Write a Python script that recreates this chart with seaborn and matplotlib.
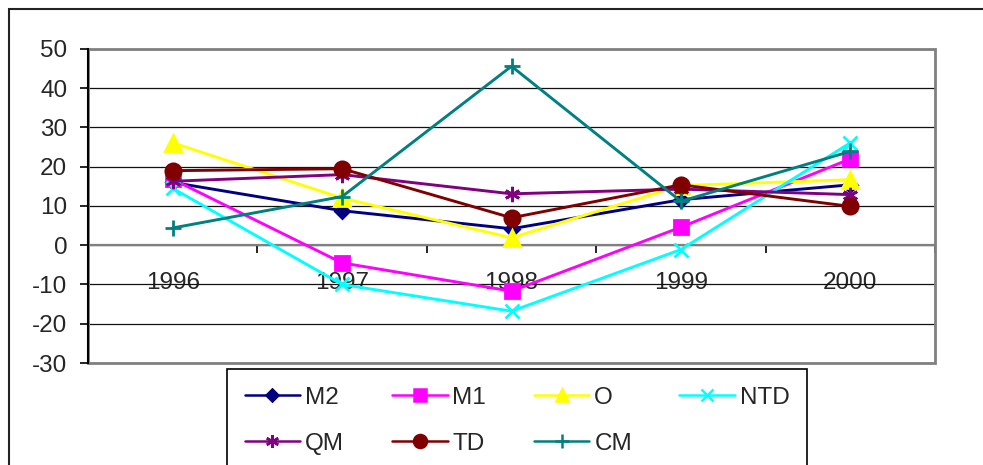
import matplotlib
matplotlib.use("Agg")
import matplotlib.pyplot as plt
from matplotlib.patches import Rectangle
from matplotlib.lines import Line2D
import seaborn as sns
import pandas as pd

years = ["1996", "1997", "1998", "1999", "2000"]
M2 = [16.0, 8.8, 4.2, 11.6, 15.4]
M1 = [16.8, -4.5, -11.7, 4.6, 22.0]
O = [26.1, 12.0, 1.9, 15.2, 16.7]
NTD = [14.5, -10.0, -16.8, -1.1, 26.1]
QM = [16.3, 18.0, 13.1, 14.3, 12.9]
TD = [19.0, 19.5, 7.0, 15.4, 9.9]
CM = [4.4, 12.4, 45.6, 11.2, 23.9]

series_names = ["M2", "M1", "O", "NTD", "QM", "TD", "CM"]
series_values = [M2, M1, O, NTD, QM, TD, CM]
colors = ["#000080", "#FF00FF", "#FFFF00", "#00FFFF", "#800080", "#800000", "#008080"]
markers = ["D", "s", "^", "x", (6, 2, 0), "o", "+"]
msizes = [7, 10, 11, 10, 11, 11, 12]

FS = 17.5

sns.set_style("white")
plt.rcParams["font.family"] = ["Liberation Sans", "DejaVu Sans"]
plt.rcParams["font.size"] = FS
plt.rcParams["axes.unicode_minus"] = False

rows = []
for name, vals in zip(series_names, series_values):
    for i, v in enumerate(vals):
        rows.append({"series": name, "x": i, "value": v})
df = pd.DataFrame(rows)

fig = plt.figure(figsize=(9.83, 4.65), dpi=100)
fig.patch.set_facecolor("white")
ax = fig.add_axes([88 / 983, 1 - 363 / 465, (935 - 88) / 983, (363 - 49) / 465])

handles = {}
for name, col, mk, ms in zip(series_names, colors, markers, msizes):
    sub = df[df["series"] == name]
    sns.lineplot(data=sub, x="x", y="value", ax=ax, color=col, marker=mk,
                 markersize=ms, markeredgecolor=col, markerfacecolor=col,
                 markeredgewidth=2.0, linewidth=2.1, legend=False, zorder=5)
    handles[name] = Line2D([0], [0], color=col, marker=mk, markersize=ms * 0.85,
                           markeredgecolor=col, markerfacecolor=col,
                           markeredgewidth=1.8, linewidth=1.8, label=name)

ax.set_xlim(-0.5, 4.5)
ax.set_ylim(-30, 50)
ax.set_yticks(range(-30, 51, 10))
ax.set_xlabel("")
ax.set_ylabel("")

# x ticks: marks between categories, labels at categories
ax.set_xticks([-0.5, 0.5, 1.5, 2.5, 3.5, 4.5])
ax.set_xticklabels([])
ax.set_xticks(range(len(years)), minor=True)
ax.set_xticklabels(years, minor=True)
ax.tick_params(axis="x", which="major", direction="out", length=6, width=1.2,
               color="black", bottom=True)
ax.tick_params(axis="x", which="minor", length=0, pad=19, labelsize=FS)
ax.tick_params(axis="y", direction="out", length=6, width=1.2, color="black",
               left=True, pad=9, labelsize=FS)

ax.yaxis.grid(True, color="#111111", linewidth=0.9)
ax.xaxis.grid(False)
ax.set_axisbelow(True)

for s in ["top", "right"]:
    ax.spines[s].set_visible(False)
ax.spines["bottom"].set_position(("data", 0))
ax.spines["bottom"].set_color("#808080")
ax.spines["bottom"].set_linewidth(1.6)
ax.spines["left"].set_color("black")
ax.spines["left"].set_linewidth(1.5)
ax.spines["left"].set_zorder(3)

ax.add_patch(Rectangle((0, 0), 1, 1, transform=ax.transAxes, fill=False,
                       edgecolor="#808080", linewidth=2.0, zorder=2, clip_on=False))

legend_order = ["M2", "QM", "M1", "TD", "O", "CM", "NTD"]
leg = ax.legend(handles=[handles[n] for n in legend_order], loc="upper left",
                bbox_to_anchor=(227 / 983, 1 - 369 / 465),
                bbox_transform=fig.transFigure, borderaxespad=0,
                ncol=4, fontsize=FS, frameon=True, fancybox=False,
                shadow=False, handlelength=2.3, handletextpad=0.2,
                columnspacing=1.95, labelspacing=1.0, borderpad=0.72)
leg.get_frame().set_edgecolor("black")
leg.get_frame().set_linewidth(1.2)
leg.get_frame().set_alpha(1)

fig.patches.append(Rectangle((9 / 983, -0.2), 1.5, 1 - 9 / 465 + 0.2,
                             transform=fig.transFigure, fill=False,
                             edgecolor="#222222", linewidth=1.5, figure=fig))

fig.savefig("out.png", dpi=100, facecolor="white")
